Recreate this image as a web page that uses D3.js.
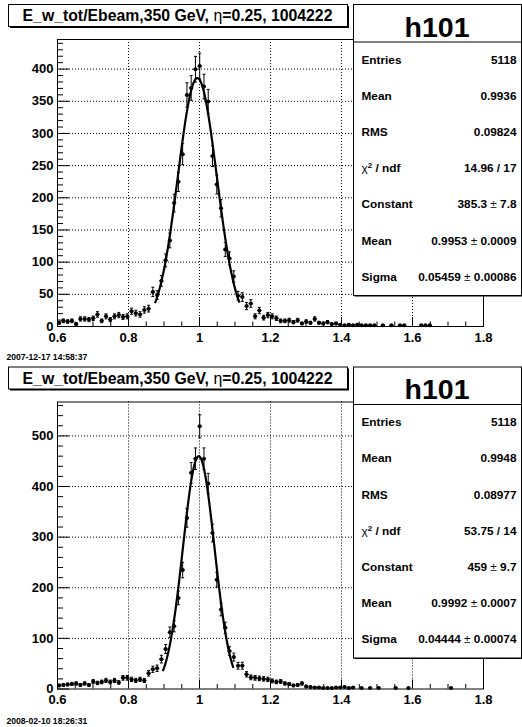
<!DOCTYPE html>
<html>
<head>
<meta charset="utf-8">
<script src="https://cdn.jsdelivr.net/npm/d3@7"></script>
<style>
  body { margin: 0; background: #fff; }
  svg { display: block; font-family: "Liberation Sans", Arial, sans-serif; font-weight: bold; }
</style>
</head>
<body>
<script>
// histogram binning, same for both runs
const binStart = 0.6;
const binWidth = 0.012;

// bin contents (0.6 -> 1.8)
const countsTop = [
  5, 8, 7, 8, 3, 11, 11, 10, 12, 18,
  8, 15, 10, 15, 17, 14, 15, 23, 20, 18,
  25, 27, 53, 48, 70, 102, 133, 191, 224, 267,
  359, 370, 399, 404, 372, 349, 264, 220, 183, 119,
  105, 77, 47, 45, 31, 35, 15, 24, 13, 17,
  15, 12, 8, 8, 9, 6, 9, 4, 7, 5,
  11, 5, 4, 6, 3, 4, 2, 1, 2, 1,
  2, 1, 1, 1, 1, 0, 1, 0, 1, 0,
  1, 1, 0, 0, 0, 1, 1, 1, 0, 0,
  0, 0, 0, 0, 0, 0, 0, 0, 0, 0
];
const countsBottom = [
  6, 7, 8, 9, 10, 7, 10, 7, 14, 11,
  13, 16, 13, 16, 12, 21, 21, 18, 16, 18,
  16, 30, 38, 40, 58, 78, 111, 123, 179, 234,
  337, 426, 454, 518, 454, 405, 307, 215, 156, 120,
  74, 62, 45, 45, 28, 22, 21, 20, 19, 18,
  15, 13, 14, 10, 9, 6, 7, 10, 4, 3,
  2, 2, 1, 1, 1, 2, 2, 3, 1, 2,
  0, 1, 0, 1, 0, 1, 0, 0, 0, 1,
  0, 0, 1, 0, 0, 0, 0, 0, 0, 0,
  0, 0, 1, 0, 0, 0, 0, 0, 0, 0
];

// gaussian fit: constant, mean, sigma and the fitted range
const fitTop = [385.3, 0.9953, 0.05459];
const fitRangeTop = [0.876, 1.114];
const fitBottom = [459, 0.9992, 0.04444];
const fitRangeBottom = [0.898, 1.097];

// stats box
const statLabels = ["Entries", "Mean", "RMS", "chi2", "Constant", "Mean", "Sigma"];
const statsTop = ["5118", "0.9936", "0.09824", "14.96 / 17", "385.3 ± 7.8", "0.9953 ± 0.0009", "0.05459 ± 0.00086"];
const statsBottom = ["5118", "0.9948", "0.08977", "53.75 / 14", "459 ± 9.7", "0.9992 ± 0.0007", "0.04444 ± 0.00074"];

const histName = "h101";
const titleText = ["E_w_tot/Ebeam,350 GeV, ", "η", "=0.25, 1004222"];
const dates = ["2007-12-17 14:58:37", "2008-02-10 18:26:31"];

// axes
const xDomain = [0.6, 1.8];
const xTicks = [0.6, 0.8, 1, 1.2, 1.4, 1.6, 1.8];
const yMaxTop = 446;
const yTicksTop = [0, 50, 100, 150, 200, 250, 300, 350, 400];
const yMaxBottom = 567;
const yTicksBottom = [0, 100, 200, 300, 400, 500];

const svg = d3.select("body").append("svg")
  .attr("width", 522)
  .attr("height", 727);

function drawPanel(p) {
  const g = svg.append("g");
  const left = 57, right = 483;

  const x = d3.scaleLinear().domain(xDomain).range([left, right]);
  const y = d3.scaleLinear().domain([0, p.yMax]).range([p.bottom, p.top]);

  // grid
  g.append("g").selectAll("line")
    .data(p.yTicks.filter(d => d > 0))
    .join("line")
    .attr("x1", left).attr("x2", right)
    .attr("y1", d => y(d) + 0.5).attr("y2", d => y(d) + 0.5)
    .attr("stroke", "#000").attr("stroke-dasharray", "1,2");
  g.append("g").selectAll("line")
    .data(xTicks.slice(1, -1))
    .join("line")
    .attr("x1", d => Math.round(x(d)) + 0.5).attr("x2", d => Math.round(x(d)) + 0.5)
    .attr("y1", p.top).attr("y2", p.bottom)
    .attr("stroke", "#000").attr("stroke-dasharray", "1,2");

  // minor ticks
  const yMinor = d3.range(0, p.yMax, p.yMinorStep).filter(v => p.yTicks.indexOf(v) < 0);
  g.append("g")
    .attr("transform", `translate(${left},0)`)
    .call(d3.axisLeft(y).tickValues(yMinor).tickSize(-6).tickFormat(""))
    .call(a => a.select(".domain").remove());
  const xMinor = d3.range(0.65, 1.8, 0.05).filter(v => Math.abs(v * 5 - Math.round(v * 5)) > 1e-6);
  g.append("g")
    .attr("transform", `translate(0,${p.bottom})`)
    .call(d3.axisBottom(x).tickValues(xMinor).tickSize(-4.5).tickFormat(""))
    .call(a => a.select(".domain").remove());

  // major ticks + labels
  g.append("g")
    .attr("transform", `translate(${left},0)`)
    .call(d3.axisLeft(y).tickValues(p.yTicks).tickSize(-12).tickPadding(3.5).tickFormat(d3.format("d")))
    .call(a => a.select(".domain").remove())
    .call(a => a.selectAll("text").attr("font-size", 13).attr("font-family", null).attr("fill", "#000"));
  g.append("g")
    .attr("transform", `translate(0,${p.bottom})`)
    .call(d3.axisBottom(x).tickValues(xTicks).tickSize(-9).tickPadding(6.5).tickFormat(d => String(+d.toFixed(1))))
    .call(a => a.select(".domain").remove())
    .call(a => a.selectAll("text").attr("font-size", 13).attr("font-family", null).attr("fill", "#000"));
  g.selectAll(".tick line").attr("stroke", "#000");

  // frame
  g.append("rect")
    .attr("x", left + 0.5).attr("y", p.top + 0.5)
    .attr("width", right - left).attr("height", p.bottom - p.top)
    .attr("fill", "none").attr("stroke", "#000");

  // histogram points with errors
  const bins = p.counts.map((c, i) => ({
    lo: binStart + i * binWidth,
    hi: binStart + (i + 1) * binWidth,
    mid: binStart + (i + 0.5) * binWidth,
    c: c,
    e: Math.sqrt(c)
  })).filter(b => b.c > 0);

  const pts = g.append("g").attr("stroke", "#000").attr("stroke-width", 1);
  const pt = pts.selectAll("g").data(bins).join("g");
  pt.append("line")
    .attr("x1", d => x(d.lo)).attr("x2", d => x(d.hi))
    .attr("y1", d => y(d.c)).attr("y2", d => y(d.c));
  pt.append("line")
    .attr("x1", d => x(d.mid)).attr("x2", d => x(d.mid))
    .attr("y1", d => y(Math.max(0, d.c - d.e))).attr("y2", d => y(d.c + d.e));
  pt.append("line")
    .attr("x1", d => x(d.mid) - 1.5).attr("x2", d => x(d.mid) + 1.5)
    .attr("y1", d => y(d.c + d.e)).attr("y2", d => y(d.c + d.e));
  pt.append("line")
    .attr("x1", d => x(d.mid) - 1.5).attr("x2", d => x(d.mid) + 1.5)
    .attr("y1", d => y(Math.max(0, d.c - d.e))).attr("y2", d => y(Math.max(0, d.c - d.e)));
  pt.append("circle")
    .attr("cx", d => x(d.mid)).attr("cy", d => y(d.c))
    .attr("r", 2).attr("fill", "#000").attr("stroke", "none");

  // fit curve
  const [A, mu, sig] = p.fit;
  const gaus = v => A * Math.exp(-0.5 * ((v - mu) / sig) ** 2);
  const xs = d3.range(p.fitRange[0], p.fitRange[1], 0.002).concat([p.fitRange[1]]);
  g.append("path")
    .datum(xs)
    .attr("fill", "none").attr("stroke", "#000").attr("stroke-width", 2.2)
    .attr("d", d3.line().x(v => x(v)).y(v => y(gaus(v))));

  // title box
  const tb = { x: 8, y: p.top - 35, w: 339, h: 22 };
  g.append("rect").attr("x", tb.x + 2).attr("y", tb.y + 2).attr("width", tb.w).attr("height", tb.h).attr("fill", "#000");
  g.append("rect").attr("x", tb.x + 0.5).attr("y", tb.y + 0.5).attr("width", tb.w).attr("height", tb.h)
    .attr("fill", "#fff").attr("stroke", "#000");
  const tt = g.append("text")
    .attr("x", tb.x + tb.w / 2).attr("y", tb.y + 17)
    .attr("text-anchor", "middle").attr("font-size", 15.8);
  tt.append("tspan").text(titleText[0]);
  tt.append("tspan").attr("font-weight", "normal").text(titleText[1]);
  tt.append("tspan").text(titleText[2]);

  // stats box
  const sb = { x: 353, y: p.top - 35, w: 168, h: 291 };
  g.append("rect").attr("x", sb.x + 1.5).attr("y", sb.y + 1.5).attr("width", sb.w).attr("height", sb.h).attr("fill", "#000");
  g.append("rect").attr("x", sb.x + 0.5).attr("y", sb.y + 0.5).attr("width", sb.w).attr("height", sb.h)
    .attr("fill", "#fff").attr("stroke", "#000");
  const headH = 37.5;
  g.append("line").attr("x1", sb.x).attr("x2", sb.x + sb.w)
    .attr("y1", sb.y + headH + 0.5).attr("y2", sb.y + headH + 0.5).attr("stroke", "#000");
  g.append("text")
    .attr("x", sb.x + 84).attr("y", sb.y + 32.5)
    .attr("text-anchor", "middle").attr("font-size", 28.5)
    .text(histName);

  const rowH = (sb.h - headH) / statLabels.length;
  statLabels.forEach((lab, i) => {
    const cy = sb.y + headH + rowH * (i + 0.5) + 4;
    const lt = g.append("text").attr("x", 361.5).attr("y", cy).attr("font-size", 11.8);
    if (lab === "chi2") {
      lt.append("tspan").attr("font-weight", "normal").text("χ");
      lt.append("tspan").attr("font-size", 8).attr("dy", -4).text("2");
      lt.append("tspan").attr("dy", 4).text(" / ndf");
    } else {
      lt.text(lab);
    }
    const vt = g.append("text").attr("x", 516.5).attr("y", cy)
      .attr("text-anchor", "end").attr("font-size", 11.8);
    const parts = p.stats[i].split(" ± ");
    vt.append("tspan").text(parts[0]);
    if (parts.length > 1) {
      vt.append("tspan").attr("font-weight", "normal").text(" ± ");
      vt.append("tspan").text(parts[1]);
    }
  });

  // date stamp
  g.append("text")
    .attr("x", 6.5).attr("y", p.dateY)
    .attr("font-size", 8.6)
    .text(p.date);
}

drawPanel({
  top: 39, bottom: 326, yMax: yMaxTop, yTicks: yTicksTop, yMinorStep: 10,
  counts: countsTop, fit: fitTop, fitRange: fitRangeTop,
  stats: statsTop, date: dates[0], dateY: 360
});
drawPanel({
  top: 401.5, bottom: 688.5, yMax: yMaxBottom, yTicks: yTicksBottom, yMinorStep: 20,
  counts: countsBottom, fit: fitBottom, fitRange: fitRangeBottom,
  stats: statsBottom, date: dates[1], dateY: 724
});
</script>
</body>
</html>
